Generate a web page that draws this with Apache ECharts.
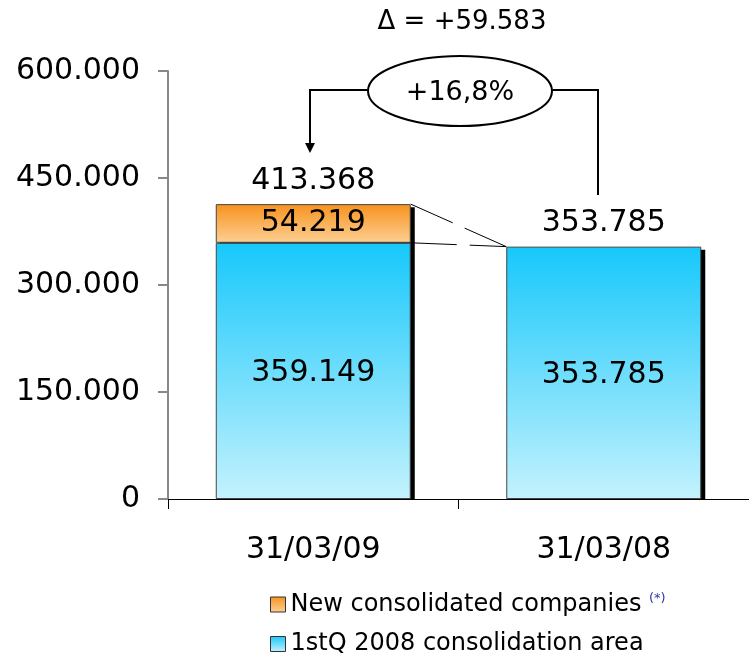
<!DOCTYPE html>
<html><head><meta charset="utf-8">
<script src="https://cdn.jsdelivr.net/npm/echarts@6/dist/echarts.min.js"></script>
<style>html,body{margin:0;padding:0;background:#fff}#c{width:749px;height:654px}</style>
</head><body><div id="c"></div>
<script>
const categories = ['31/03/09', '31/03/08'];
const baseArea = [359149, 353785];
const newCompanies = [54219, '-'];
const totals = [413368, 353785];
const yTicks = [0, 150000, 300000, 450000, 600000];
const seriesNames = ['1stQ 2008 consolidation area', 'New consolidated companies'];
const deltaText = 'Δ = +59.583';
const pctText = '+16,8%';

const FONT = '"DejaVu Sans", sans-serif';
const fmt = v => String(v).replace(/\B(?=(\d{3})+(?!\d))/g, '.');
const BW = 195;

const chart = echarts.init(document.getElementById('c'));
const blueGrad = new echarts.graphic.LinearGradient(0,0,0,1,[{offset:0,color:'#17c8fb'},{offset:1,color:'#c4f2fd'}]);
const orangeGrad = new echarts.graphic.LinearGradient(0,0,0,1,[{offset:0,color:'#f7921e'},{offset:1,color:'#fdd093'}]);

const legendBase = {
  orient: 'vertical', left: 265, icon: 'rect', itemWidth: 15, itemHeight: 15,
  itemStyle: {borderColor: '#333', borderWidth: 1},
  textStyle: {fontFamily: FONT, fontSize: 24, lineHeight: 24, color: '#000',
    rich: {sup: {fontSize: 13, color: '#3333aa', padding: [0,0,12,0], fontFamily: FONT}}},
  formatter: n => n === seriesNames[1] ? n + ' {sup|(*)}' : n
};

chart.setOption({
  animation: false,
  textStyle: {fontFamily: FONT},
  grid: {left: 168, right: 0, top: 71, bottom: 155, containLabel: false},
  legend: [
    Object.assign({}, legendBase, {top: 587, data: [seriesNames[1]]}),
    Object.assign({}, legendBase, {top: 627, data: [seriesNames[0]]})
  ],
  xAxis: {
    type: 'category', data: categories, boundaryGap: true,
    axisLine: {lineStyle: {color: '#000', width: 1}},
    axisTick: {show: true, length: 10, lineStyle: {color: '#000'}},
    axisLabel: {fontFamily: FONT, fontSize: 30, color: '#000', margin: 36}
  },
  yAxis: {
    type: 'value', min: 0, max: 600000, interval: 150000,
    axisLine: {show: true, lineStyle: {color: '#888', width: 2}},
    axisTick: {show: true, length: 10, lineStyle: {color: '#888', width: 2}},
    splitLine: {show: false},
    axisLabel: {fontFamily: FONT, fontSize: 30, color: '#000', margin: 28, formatter: v => fmt(v)}
  },
  series: [
    {name: 'shadow', type: 'custom', z: 1, data: totals.map((v, i) => [i, v]), encode: {x: 0, y: 1},
     renderItem: (params, api) => {
       const idx = api.value(0), total = api.value(1);
       const top = api.coord([idx, total]);
       const base = api.coord([idx, 0]);
       return {type: 'group', children: [
         {type: 'rect', shape: {x: top[0] - BW / 2 + 4, y: top[1] + 3, width: BW, height: base[1] - top[1] - 3}, style: {fill: '#000'}},
         {type: 'text', style: {text: fmt(total), x: top[0], y: top[1] - 8, align: 'center', verticalAlign: 'bottom', font: '30px ' + FONT, fill: '#000'}}
       ]};
     }},
    {name: seriesNames[0], type: 'bar', stack: 's', barWidth: BW, data: baseArea, z: 2,
     itemStyle: {color: blueGrad, borderColor: '#444', borderWidth: 1},
     label: {show: true, position: 'inside', offset: [0, 2], fontFamily: FONT, fontSize: 30, color: '#000', formatter: p => fmt(p.value)}},
    {name: seriesNames[1], type: 'bar', stack: 's', barWidth: BW, data: newCompanies, z: 2,
     itemStyle: {color: orangeGrad, borderColor: '#444', borderWidth: 1},
     label: {show: true, position: 'inside', fontFamily: FONT, fontSize: 30, color: '#000', formatter: p => fmt(p.value)}}
  ]
});

// connectors between bar tops, computed from the data via the axes
const p1Top = chart.convertToPixel({seriesIndex: 1}, [0, totals[0]]);
const p1Mid = chart.convertToPixel({seriesIndex: 1}, [0, baseArea[0]]);
const p2Top = chart.convertToPixel({seriesIndex: 1}, [1, totals[1]]);
const dash = {stroke: '#000', lineWidth: 1, lineDash: [46, 13]};
chart.setOption({
  graphic: [
    {type: 'line', shape: {x1: p1Top[0] + BW / 2, y1: p1Top[1], x2: p2Top[0] - BW / 2, y2: p2Top[1]}, style: dash, z: 1},
    {type: 'line', shape: {x1: p1Mid[0] + BW / 2, y1: p1Mid[1], x2: p2Top[0] - BW / 2, y2: p2Top[1]}, style: dash, z: 1},
    {type: 'text', style: {text: deltaText, font: '26px ' + FONT, fill: '#000', x: 462, y: 22, align: 'center', verticalAlign: 'middle'}},
    {type: 'ellipse', shape: {cx: 460, cy: 91, rx: 92, ry: 35}, style: {fill: '#fff', stroke: '#000', lineWidth: 2}},
    {type: 'text', style: {text: pctText, font: '27px ' + FONT, fill: '#000', x: 460, y: 93, align: 'center', verticalAlign: 'middle'}},
    {type: 'polyline', shape: {points: [[368, 90], [310, 90], [310, 144]]}, style: {stroke: '#000', lineWidth: 2, fill: null}},
    {type: 'polygon', shape: {points: [[305, 143], [315, 143], [310, 153]]}, style: {fill: '#000'}},
    {type: 'polyline', shape: {points: [[552, 90], [598, 90], [598, 195]]}, style: {stroke: '#000', lineWidth: 2, fill: null}}
  ]
});
</script></body></html>
